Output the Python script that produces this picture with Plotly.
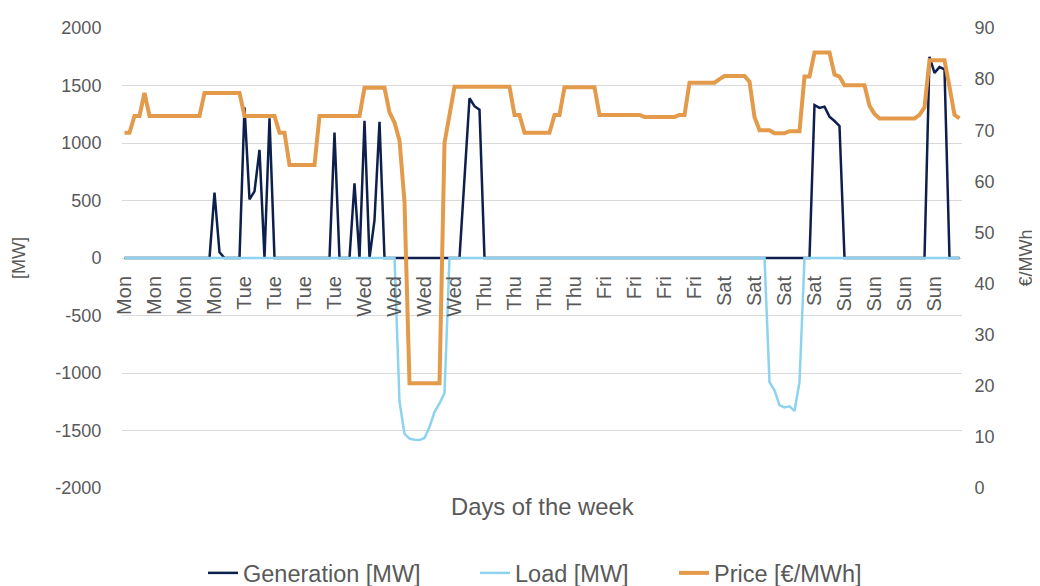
import plotly.graph_objects as go

# --- Data (hourly, one week) ---
HOURS = list(range(168))

TICK_HOURS = [0, 6, 12, 18, 24, 30, 36, 42, 48, 54, 60, 66, 72, 78,
              84, 90, 96, 102, 108, 114, 120, 126, 132, 138, 144, 150, 156, 162]
TICK_LABELS = ["Mon", "Mon", "Mon", "Mon", "Tue", "Tue", "Tue", "Tue",
               "Wed", "Wed", "Wed", "Wed", "Thu", "Thu", "Thu", "Thu",
               "Fri", "Fri", "Fri", "Fri", "Sat", "Sat", "Sat", "Sat",
               "Sun", "Sun", "Sun", "Sun"]

MW_TICKS = [-2000, -1500, -1000, -500, 0, 500, 1000, 1500, 2000]
MW_TICK_LABELS = ["-2000", "-1500", "-1000", "-500", "0", "500", "1000", "1500", "2000"]
PRICE_TICKS = [0, 10, 20, 30, 40, 50, 60, 70, 80, 90]

generation_mw = [
    # Mon
    0, 0, 0, 0, 0, 0, 0, 0, 0, 0, 0, 0, 0, 0, 0, 0, 0, 0, 568, 50, 0, 0, 0, 0,
    # Tue
    1310, 510, 580, 940, 0, 1215, 0, 0, 0, 0, 0, 0, 0, 0, 0, 0, 0, 0, 1090, 0, 0, 0, 650, 0,
    # Wed
    1194, 0, 330, 1185, 0, 0, 0, 0, 0, 0, 0, 0, 0, 0, 0, 0, 0, 0, 0, 0, 695, 1389, 1320, 1290,
    # Thu
    0, 0, 0, 0, 0, 0, 0, 0, 0, 0, 0, 0, 0, 0, 0, 0, 0, 0, 0, 0, 0, 0, 0, 0,
    # Fri
    0, 0, 0, 0, 0, 0, 0, 0, 0, 0, 0, 0, 0, 0, 0, 0, 0, 0, 0, 0, 0, 0, 0, 0,
    # Sat
    0, 0, 0, 0, 0, 0, 0, 0, 0, 0, 0, 0, 0, 0, 0, 0, 0, 0, 1330, 1305, 1316, 1229, 1191, 1148,
    # Sun
    0, 0, 0, 0, 0, 0, 0, 0, 0, 0, 0, 0, 0, 0, 0, 0, 0, 1750, 1610, 1660, 1640, 0, 0, 0,
]

load_mw = [
    # Mon
    0, 0, 0, 0, 0, 0, 0, 0, 0, 0, 0, 0, 0, 0, 0, 0, 0, 0, 0, 0, 0, 0, 0, 0,
    # Tue
    0, 0, 0, 0, 0, 0, 0, 0, 0, 0, 0, 0, 0, 0, 0, 0, 0, 0, 0, 0, 0, 0, 0, 0,
    # Wed
    0, 0, 0, 0, 0, 0, 0, -1250, -1530, -1570, -1580, -1583, -1565, -1470, -1340, -1265, -1175,
    0, 0, 0, 0, 0, 0, 0,
    # Thu
    0, 0, 0, 0, 0, 0, 0, 0, 0, 0, 0, 0, 0, 0, 0, 0, 0, 0, 0, 0, 0, 0, 0, 0,
    # Fri
    0, 0, 0, 0, 0, 0, 0, 0, 0, 0, 0, 0, 0, 0, 0, 0, 0, 0, 0, 0, 0, 0, 0, 0,
    # Sat
    0, 0, 0, 0, 0, 0, 0, 0, 0, -1080, -1150, -1280, -1300, -1290, -1330, -1080,
    0, 0, 0, 0, 0, 0, 0, 0,
    # Sun
    0, 0, 0, 0, 0, 0, 0, 0, 0, 0, 0, 0, 0, 0, 0, 0, 0, 0, 0, 0, 0, 0, 0, 0,
]

price_eur = [
    # Mon
    69.5, 69.5, 72.8, 72.8, 77.3, 72.8, 72.8, 72.8, 72.8, 72.8, 72.8, 72.8,
    72.8, 72.8, 72.8, 72.8, 77.3, 77.3, 77.3, 77.3, 77.3, 77.3, 77.3, 77.3,
    # Tue
    72.8, 72.8, 72.8, 72.8, 72.8, 72.8, 72.8, 69.5, 69.5, 63.2, 63.2, 63.2,
    63.2, 63.2, 63.2, 72.8, 72.8, 72.8, 72.8, 72.8, 72.8, 72.8, 72.8, 72.8,
    # Wed
    78.3, 78.3, 78.3, 78.3, 78.3, 73.5, 71.5, 68.0, 56.0, 20.5, 20.5, 20.5,
    20.5, 20.5, 20.5, 20.5, 67.5, 73.4, 78.5, 78.5, 78.5, 78.5, 78.5, 78.5,
    # Thu
    78.5, 78.5, 78.5, 78.5, 78.5, 78.5, 73.0, 73.0, 69.5, 69.5, 69.5, 69.5,
    69.5, 69.5, 73.0, 73.0, 78.4, 78.4, 78.4, 78.4, 78.4, 78.4, 78.4, 73.0,
    # Fri
    73.0, 73.0, 73.0, 73.0, 73.0, 73.0, 73.0, 73.0, 72.6, 72.6, 72.6, 72.6,
    72.6, 72.6, 72.6, 73.0, 73.0, 79.3, 79.3, 79.3, 79.3, 79.3, 79.3, 80.0,
    # Sat
    80.6, 80.6, 80.6, 80.6, 80.6, 79.5, 72.6, 70.0, 70.0, 70.0, 69.4, 69.4,
    69.4, 69.8, 69.8, 69.8, 80.5, 80.5, 85.2, 85.2, 85.2, 85.2, 80.9, 80.5,
    # Sun
    78.8, 78.8, 78.8, 78.8, 78.8, 74.8, 73.2, 72.3, 72.3, 72.3, 72.3, 72.3,
    72.3, 72.3, 72.3, 73.0, 74.5, 83.7, 83.7, 83.7, 83.7, 78.5, 73.0, 72.3,
]

FONT = "Liberation Sans, Arial, sans-serif"
GREY = "#595959"

fig = go.Figure()

fig.add_trace(go.Scatter(
    x=HOURS, y=generation_mw, mode="lines", name="Generation [MW]", legend="legend",
    line=dict(color="#0d1f4c", width=2.5)
))
fig.add_trace(go.Scatter(
    x=HOURS, y=load_mw, mode="lines", name="Load [MW]", legend="legend2",
    line=dict(color="#8dd3f0", width=2.5)
))
fig.add_trace(go.Scatter(
    x=HOURS, y=price_eur, mode="lines", name="Price [€/MWh]", yaxis="y2", legend="legend3",
    line=dict(color="#e39a4b", width=4)
))

legend_style = dict(xanchor="left", y=-0.185, yanchor="middle", visible=True,
                    font=dict(size=23.5, color=GREY), bgcolor="rgba(0,0,0,0)")

# page body has an 8px margin, so the figure is 8px smaller than the window
fig.update_layout(
    width=1032, height=578,
    margin=dict(l=114, r=78, t=20, b=98, autoexpand=False),
    paper_bgcolor="white", plot_bgcolor="white",
    font=dict(family=FONT, size=18, color=GREY),
    showlegend=True,
    xaxis=dict(
        range=[-0.5, 167.5], tickmode="array", tickvals=TICK_HOURS, ticktext=TICK_LABELS,
        tickangle=-90, anchor="free", position=0.5, showgrid=False, zeroline=False,
        showline=False, ticks="outside", ticklen=9, tickcolor="rgba(0,0,0,0)",
        tickfont=dict(size=20, color=GREY), automargin=False,
    ),
    yaxis=dict(
        range=[-2000, 2000], tickmode="array", tickvals=MW_TICKS, ticktext=MW_TICK_LABELS,
        showgrid=True, gridcolor="#d9d9d9", gridwidth=1.3,
        zeroline=False, showline=False, ticks="outside", ticklen=16,
        tickcolor="rgba(0,0,0,0)", tickfont=dict(size=18, color=GREY), automargin=False,
        title=dict(text="[MW]", font=dict(size=18, color=GREY), standoff=25),
    ),
    yaxis2=dict(
        range=[0, 90], tickmode="array", tickvals=PRICE_TICKS, overlaying="y", side="right",
        showgrid=False, zeroline=False, showline=False, ticks="outside", ticklen=8,
        tickcolor="rgba(0,0,0,0)", tickfont=dict(size=18, color=GREY), automargin=False,
        title=dict(text="€/MWh", font=dict(size=18, color=GREY), standoff=25),
    ),
    legend=dict(x=(203 - 122) / 840, **legend_style),
    legend2=dict(x=(475 - 122) / 840, **legend_style),
    legend3=dict(x=(674 - 122) / 840, **legend_style),
    annotations=[dict(
        text="Days of the week", xref="paper", yref="paper", x=0.5, y=-0.041,
        xanchor="center", yanchor="middle", showarrow=False,
        font=dict(size=23.8, color=GREY),
    )],
)

fig.write_html("out.html")
